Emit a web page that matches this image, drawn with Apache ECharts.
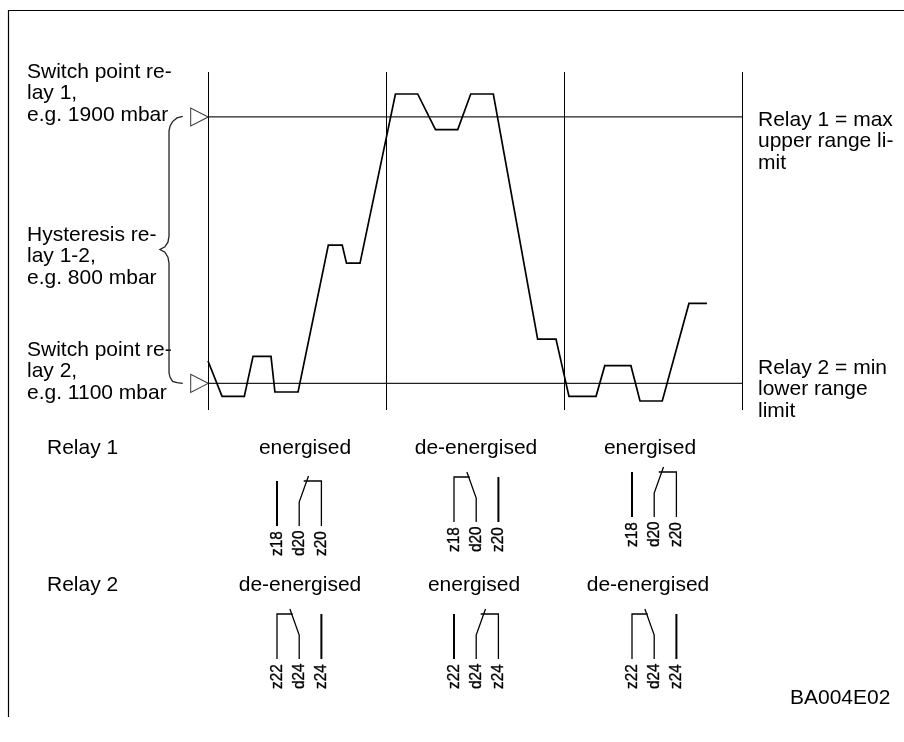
<!DOCTYPE html>
<html>
<head>
<meta charset="utf-8">
<style>html,body{margin:0;padding:0;background:#fff}#c{width:904px;height:742px}</style>
<script src="https://cdn.jsdelivr.net/npm/echarts@6/dist/echarts.min.js"></script>
</head>
<body>
<div id="c"></div>
<script>
// Pressure curve: time units (one switching phase = 10) and pressure in mbar
const timeValues = [0.0,0.79,2.04,2.53,3.54,3.76,5.06,6.76,7.54,7.78,8.54,10.53,11.78,12.78,14.03,14.76,16.03,18.52,19.55,20.28,21.80,22.29,23.76,24.27,25.52,27.02,28.03];
const pressureValues = [1167,1061,1061,1181,1181,1074,1074,1515,1515,1461,1461,1969,1969,1862,1862,1969,1969,1233,1233,1061,1061,1153,1153,1047,1047,1340,1340];
const switchPoints = [1900, 1100];
const braceTime = [-1.42,-1.74,-1.99,-2.13,-2.19,-2.19,-2.25,-2.42,-2.70,-2.42,-2.25,-2.19,-2.19,-2.13,-1.99,-1.74,-1.42];
const bracePressure = [1902,1897,1886,1873,1858,1542,1524,1510,1502,1494,1479,1461,1131,1118,1106,1102,1100];
const relay1States = ['energised','de-energised','energised'];
const relay2States = ['de-energised','energised','de-energised'];
const relayPins = [['z18','d20','z20'],['z22','d24','z24']];
const relayNames = ['Relay 1','Relay 2'];
const leftNotes = [
  'Switch point re-\nlay 1,\ne.g. 1900 mbar',
  'Hysteresis re-\nlay 1-2,\ne.g. 800 mbar',
  'Switch point re-\nlay 2,\ne.g. 1100 mbar'
];
const rightNotes = ['Relay 1 = max\nupper range li-\nmit','Relay 2 = min\nlower range\nlimit'];
const figureCode = 'BA004E02';

const FONT = '"Liberation Sans", Arial, sans-serif';
const FS = 21;
const zip = (a, b) => a.map((v, i) => [v, b[i]]);

const contactData = [];
[relay1States, relay2States].forEach((states, row) => {
  states.forEach((s, col) => contactData.push([col, row, s === 'energised' ? 1 : 0]));
});

const GROUP_X = [277, 454, 632];
const GROUP_TOP = [[481, 477, 472], [614, 614, 614]];
const PIN_GAP = 22.2, PIN_LEN = 45, KNEE = 21, TIP = 5, TIP_DX = 9.3;

function renderContact(params, api) {
  const col = api.value(0), row = api.value(1), on = api.value(2) === 1;
  const x0 = GROUP_X[col], top = GROUP_TOP[row][col], bot = top + PIN_LEN;
  const xs = [x0, x0 + PIN_GAP, x0 + 2 * PIN_GAP];
  const ln = (pts, w) => ({
    type: 'polyline', shape: { points: pts },
    style: { stroke: '#000', lineWidth: w, fill: null }
  });
  const kids = [];
  if (on) {
    kids.push(ln([[xs[0], top], [xs[0], bot]], 2));
    kids.push(ln([[xs[1], bot], [xs[1], top + KNEE], [xs[1] + TIP_DX, top - TIP]], 1.3));
    kids.push(ln([[xs[2], bot], [xs[2], top], [xs[1] + 4.5, top]], 1.3));
  } else {
    kids.push(ln([[xs[2], top], [xs[2], bot]], 2));
    kids.push(ln([[xs[1], bot], [xs[1], top + KNEE], [xs[1] - TIP_DX, top - TIP]], 1.3));
    kids.push(ln([[xs[0], bot], [xs[0], top], [xs[1] - 6.5, top]], 1.3));
  }
  relayPins[row].forEach((name, i) => {
    kids.push({
      type: 'text', x: xs[i], y: bot + 30, rotation: Math.PI / 2, scaleX: 0.9,
      style: { text: name, font: '17px ' + FONT, fill: '#000', stroke: '#000', lineWidth: 0.35, align: 'left', verticalAlign: 'middle' }
    });
  });
  return { type: 'group', children: kids };
}

function renderBrace(params, api) {
  if (params.dataIndex !== 0) return null;
  return {
    type: 'polyline',
    shape: { points: zip(braceTime, bracePressure).map(p => api.coord(p)) },
    style: { stroke: '#222', lineWidth: 1.3, fill: null }
  };
}

const txt = (text, x, y, align) => ({
  type: 'text', x, y, silent: true,
  style: { text, font: FS + 'px ' + FONT, fill: '#000', align: align || 'left', verticalAlign: 'top', lineHeight: 21.5 }
});

const graphics = [
  { type: 'polyline', shape: { points: [[8.5, 717], [8.5, 10.5], [904, 10.5]] }, style: { stroke: '#000', lineWidth: 1.2, fill: null }, silent: true },
  txt(leftNotes[0], 27, 61),
  txt(leftNotes[1], 27, 224),
  txt(leftNotes[2], 27, 339),
  txt(rightNotes[0], 758, 109),
  txt(rightNotes[1], 758, 357),
  txt(relayNames[0], 47, 437),
  txt(relayNames[1], 47, 574),
  txt(figureCode, 790, 687),
];
const stateX = [[305, 476, 650], [300, 474, 648]];
const stateY = [437, 574];
[relay1States, relay2States].forEach((states, r) => {
  states.forEach((s, c) => graphics.push(txt(s, stateX[r][c], stateY[r], 'center')));
});

const chart = echarts.init(document.getElementById('c'), null, { renderer: 'canvas' });
chart.setOption({
  animation: false,
  backgroundColor: '#fff',
  grid: { left: 208, top: 72, width: 534, height: 338, containLabel: false },
  xAxis: {
    type: 'value', min: 0, max: 30, interval: 10,
    axisLine: { show: false }, axisTick: { show: false }, axisLabel: { show: false },
    splitLine: { show: true, lineStyle: { color: '#000', width: 1 } }
  },
  yAxis: {
    type: 'value', min: 1020, max: 2035,
    axisLine: { show: false }, axisTick: { show: false }, axisLabel: { show: false },
    splitLine: { show: false }
  },
  graphic: graphics,
  series: [
    {
      name: 'Switch point relay 1', type: 'line', silent: true, showSymbol: false,
      data: [[0, switchPoints[0]], [30, switchPoints[0]]],
      lineStyle: { color: '#222', width: 1.2 }
    },
    {
      name: 'Switch point relay 2', type: 'line', silent: true, showSymbol: false,
      data: [[0, switchPoints[1]], [30, switchPoints[1]]],
      lineStyle: { color: '#222', width: 1.2 }
    },
    {
      name: 'Pressure', type: 'line', silent: true, showSymbol: false,
      data: zip(timeValues, pressureValues),
      lineStyle: { color: '#000', width: 1.7, join: 'miter' }
    },
    {
      name: 'Hysteresis', type: 'custom', silent: true, coordinateSystem: 'cartesian2d',
      data: zip(braceTime, bracePressure), renderItem: renderBrace,
      encode: { x: 0, y: 1 }
    },
    {
      name: 'Switch markers', type: 'scatter', silent: true, clip: false,
      data: switchPoints.map(p => [-0.48, p]),
      symbol: 'triangle', symbolRotate: -90, symbolSize: [18, 17.5],
      itemStyle: { color: '#fff', borderColor: '#000', borderWidth: 1 }, z: 5
    },
    {
      name: 'Contacts', type: 'custom', coordinateSystem: 'none', silent: true,
      data: contactData, renderItem: renderContact
    }
  ]
});
</script>
</body>
</html>
